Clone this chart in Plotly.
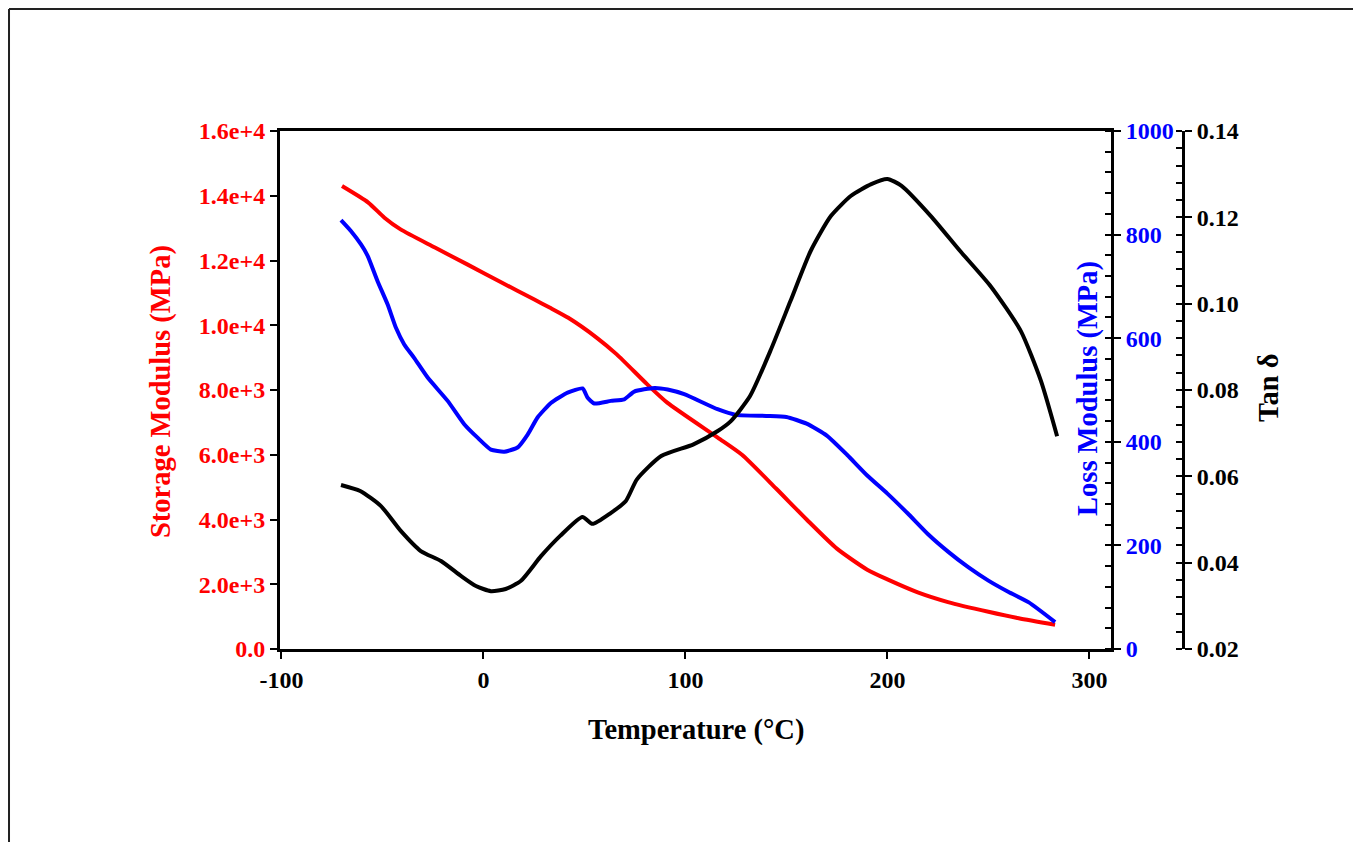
import plotly.graph_objects as go

# ---- data ----
temp_storage = [-70, -57, -49, -41, -24, -8, 9, 25, 33, 42, 56, 66, 81, 91, 116, 128,
                145, 160, 175, 190, 200, 215, 230, 250, 265, 283]
storage = [14300, 13790, 13320, 12960, 12400, 11880, 11320, 10800, 10540, 10230, 9620,
           9100, 8180, 7610, 6530, 6000, 4950, 4000, 3100, 2450, 2150, 1750, 1450, 1150,
           950, 750]

temp_loss = [-70.5, -65.6, -60.6, -57.3, -52.4, -47.4, -43.3, -39.2, -34.3, -27.6, -17.7,
             -9.5, -2.9, 3.7, 10.3, 16.9, 21.9, 26.8, 33.4, 41.7, 49.1, 51.6, 54.9, 63.1,
             69.7, 74.7, 84.6, 91.2, 99.4, 115.9, 125, 140, 150, 160, 170, 180, 190, 200,
             210, 220, 230, 240, 250, 260, 270, 283]
loss = [828, 807, 781, 759, 710, 665, 620, 588, 562, 524, 479, 434, 408, 385, 381, 389,
        414, 447, 475, 495, 503, 485, 474, 479, 482, 497, 504, 501, 492, 463, 452, 450,
        448, 435, 412, 375, 335, 300, 262, 222, 188, 158, 132, 110, 90, 52]

temp_tan = [-70.5, -61, -50.7, -40.8, -31, -21, -11, -3.7, 3.7, 11, 18.6, 28.5, 38, 49,
            54, 63, 70.5, 76, 88, 104, 116, 122.5, 132, 142, 152, 162, 172, 182, 192, 200,
            207, 221.5, 236, 251, 266, 276, 284]
tan_delta = [0.0580, 0.0566, 0.0531, 0.0473, 0.0427, 0.0404, 0.0369, 0.0346, 0.0334,
             0.0339, 0.0358, 0.0415, 0.0462, 0.0506, 0.0490, 0.0515, 0.0543, 0.0593,
             0.0647, 0.0674, 0.0705, 0.0728, 0.0786, 0.0890, 0.1006, 0.1122, 0.1203,
             0.1250, 0.1277, 0.1289, 0.1273, 0.1203, 0.1122, 0.1041, 0.0937, 0.0821,
             0.0693]

x_ticks = [-100, 0, 100, 200, 300]
x_ticktext = ["-100", "0", "100", "200", "300"]
storage_ticks = [0, 2000, 4000, 6000, 8000, 10000, 12000, 14000, 16000]
storage_ticktext = ["0.0", "2.0e+3", "4.0e+3", "6.0e+3", "8.0e+3", "1.0e+4", "1.2e+4",
                    "1.4e+4", "1.6e+4"]
loss_ticks = [0, 200, 400, 600, 800, 1000]
tan_ticks = [0.02, 0.04, 0.06, 0.08, 0.10, 0.12, 0.14]

FONT = "Liberation Serif"
RED = "#FF0000"
BLUE = "#0000FF"
BLACK = "#000000"

fig = go.Figure()
fig.add_trace(go.Scatter(x=temp_storage, y=storage, mode="lines",
                         line=dict(color=RED, width=4, shape="spline", smoothing=0.6),
                         yaxis="y", showlegend=False))
fig.add_trace(go.Scatter(x=temp_loss, y=loss, mode="lines",
                         line=dict(color=BLUE, width=4, shape="spline", smoothing=0.5),
                         yaxis="y2", showlegend=False))
fig.add_trace(go.Scatter(x=temp_tan, y=tan_delta, mode="lines",
                         line=dict(color=BLACK, width=4, shape="spline", smoothing=0.6),
                         yaxis="y3", showlegend=False))

tickfont = dict(family=FONT, size=24, weight="bold")

fig.update_layout(
    width=1361, height=842,
    margin=dict(l=272, r=186, t=123, b=201, pad=0),
    paper_bgcolor="white", plot_bgcolor="white",
    xaxis=dict(domain=[0, 0.9203], range=[-100.7, 310.7], tickvals=x_ticks,
               ticktext=x_ticktext,
               ticks="outside", ticklen=7, tickwidth=2, tickcolor=BLACK,
               showline=True, linewidth=3, linecolor=BLACK, mirror=True,
               showgrid=False, zeroline=False,
               tickfont=dict(color=BLACK, **tickfont)),
    yaxis=dict(range=[0, 16000], tickvals=storage_ticks, ticktext=storage_ticktext,
               ticks="outside", ticklen=7, tickwidth=2, tickcolor=BLACK,
               showline=True, linewidth=3, linecolor=BLACK,
               showgrid=False, zeroline=False,
               tickfont=dict(color=RED, **tickfont)),
    yaxis2=dict(range=[0, 1000], tickvals=loss_ticks, overlaying="y", side="right",
                anchor="x", ticks="outside", ticklen=7, tickwidth=2, tickcolor=BLACK,
                minor=dict(ticks="inside", dtick=40, ticklen=6, tickwidth=2,
                           tickcolor=BLACK, showgrid=False),
                showline=True, linewidth=3, linecolor=BLACK,
                showgrid=False, zeroline=False,
                tickfont=dict(color=BLUE, **tickfont)),
    yaxis3=dict(range=[0.02, 0.14], tickvals=tan_ticks, tickformat=".2f",
                overlaying="y", side="right", anchor="free", position=1.0,
                ticks="outside", ticklen=7, tickwidth=2, tickcolor=BLACK,
                minor=dict(ticks="inside", dtick=0.004, ticklen=6, tickwidth=2,
                           tickcolor=BLACK, showgrid=False),
                showline=True, linewidth=3, linecolor=BLACK,
                showgrid=False, zeroline=False,
                tickfont=dict(color=BLACK, **tickfont)),
)

titlefont = dict(family=FONT, size=28.5, weight="bold")
common = dict(xref="paper", yref="paper", showarrow=False,
              xanchor="center", yanchor="middle")
fig.add_annotation(text="Storage Modulus (MPa)", x=-0.1318, y=0.498, textangle=-90,
                   font=dict(color=RED, **titlefont), **common)
fig.add_annotation(text="Loss Modulus (MPa)", x=0.8948, y=0.502, textangle=-90,
                   font=dict(color=BLUE, **titlefont), **common)
fig.add_annotation(text="Tan δ", x=1.0952, y=0.504, textangle=-90,
                   font=dict(color=BLACK, **titlefont), **common)
fig.add_annotation(text="Temperature (°C)", x=0.4607, y=-0.1564,
                   font=dict(color=BLACK, **titlefont), **common)

# outer frame (top and left edges visible)
fig.add_shape(type="line", xref="paper", yref="paper", x0=-0.3001, x1=1.25,
              y0=1.2355, y1=1.2355, line=dict(color="#222222", width=2))
fig.add_shape(type="line", xref="paper", yref="paper", x0=-0.3001, x1=-0.3001,
              y0=1.2355, y1=-0.4, line=dict(color="#222222", width=2))

fig.write_html("out.html")
